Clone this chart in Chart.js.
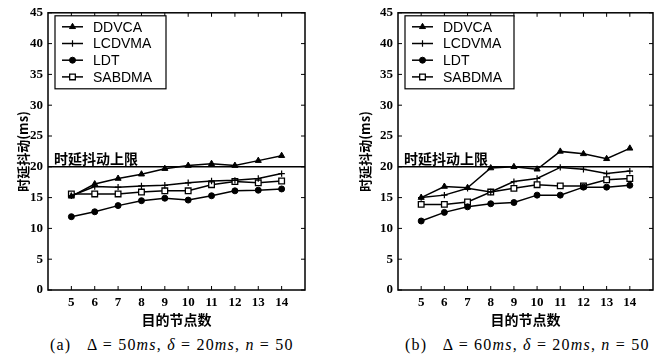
<!DOCTYPE html>
<html>
<head>
<meta charset="utf-8">
<script src="https://cdn.jsdelivr.net/npm/chart.js@4/dist/chart.umd.min.js"></script>
<style>
  body { margin: 0; background: #fff; width: 664px; height: 361px; position: relative; overflow: hidden; }
  canvas { position: absolute; top: 0; }
  .cap { position: absolute; top: 336px; font: 16px "Liberation Serif", serif; letter-spacing: 1.2px; white-space: nowrap; color: #000; }
</style>
</head>
<body>
<canvas id="chartA" width="332" height="330" style="left:0"></canvas>
<canvas id="chartB" width="332" height="330" style="left:332px"></canvas>
<div class="cap" style="left:50px">(a)&nbsp;&nbsp; Δ = 50<i>ms</i>, <i>δ</i> = 20<i>ms</i>, <i>n</i> = 50</div>
<div class="cap" style="left:405px">(b)&nbsp;&nbsp; Δ = 60<i>ms</i>, <i>δ</i> = 20<i>ms</i>, <i>n</i> = 50</div>
<script>
"use strict";

const nodeCounts = [5, 6, 7, 8, 9, 10, 11, 12, 13, 14];
const yTickValues = [0, 5, 10, 15, 20, 25, 30, 35, 40, 45];
const jitterLimit = 20;
const limitLabel = "时延抖动上限";
const seriesNames = ["DDVCA", "LCDVMA", "LDT", "SABDMA"];

// (a) delta = 50ms
const ddvcaA = [15.2, 17.2, 18.1, 18.8, 19.7, 20.2, 20.5, 20.2, 21.0, 21.8];
const lcdvmaA = [15.3, 16.8, 16.7, 16.9, 17.0, 17.4, 17.7, 17.8, 18.1, 18.9];
const ldtA = [11.9, 12.7, 13.7, 14.5, 14.9, 14.6, 15.3, 16.1, 16.2, 16.4];
const sabdmaA = [15.6, 15.6, 15.6, 15.9, 16.1, 16.1, 17.1, 17.6, 17.4, 17.7];

// (b) delta = 60ms
const ddvcaB = [15.0, 16.8, 16.6, 19.8, 20.0, 19.6, 22.5, 22.1, 21.3, 23.0];
const lcdvmaB = [15.0, 15.4, 16.5, 15.9, 17.6, 18.1, 19.9, 19.6, 18.9, 19.3];
const ldtB = [11.2, 12.6, 13.5, 14.0, 14.2, 15.4, 15.4, 16.7, 16.7, 17.0];
const sabdmaB = [13.9, 13.9, 14.3, 15.9, 16.5, 17.1, 16.9, 16.9, 17.9, 18.1];

const markers = [
  { pointStyle: "triangle", pointRadius: 3.5, pointBackgroundColor: "#000", pointBorderWidth: 1 },
  { pointStyle: "cross", pointRadius: 3.2, pointBackgroundColor: "#000", pointBorderWidth: 1.2 },
  { pointStyle: "circle", pointRadius: 3, pointBackgroundColor: "#000", pointBorderWidth: 1 },
  { pointStyle: "rect", pointRadius: 4, pointBackgroundColor: "#fff", pointBorderWidth: 1.3 },
];

const cjk = '"Noto Sans CJK SC", sans-serif';

const framePlugin = {
  id: "frame",
  afterDraw(chart) {
    const { ctx, chartArea: a, scales } = chart;
    ctx.save();
    ctx.strokeStyle = "#000";
    ctx.lineWidth = 1.5;
    ctx.strokeRect(a.left, a.top, a.right - a.left, a.bottom - a.top);
    ctx.lineWidth = 1;
    ctx.beginPath();
    yTickValues.forEach((v) => {
      const y = scales.y.getPixelForValue(v);
      ctx.moveTo(a.left, y); ctx.lineTo(a.left + 4, y);
      ctx.moveTo(a.right, y); ctx.lineTo(a.right - 4, y);
    });
    nodeCounts.forEach((v) => {
      const x = scales.x.getPixelForValue(v);
      ctx.moveTo(x, a.bottom); ctx.lineTo(x, a.bottom - 4);
      ctx.moveTo(x, a.top); ctx.lineTo(x, a.top + 4);
    });
    ctx.stroke();

    // limit label
    ctx.fillStyle = "#000";
    ctx.font = "bold 14px " + cjk;
    ctx.textBaseline = "bottom";
    ctx.textAlign = "left";
    ctx.fillText(limitLabel, a.left + 6, scales.y.getPixelForValue(jitterLimit) - 1);

    // legend box
    const bx = a.left + 7, by = a.top + 3, bw = chart.options.legendWidth, bh = 73;
    ctx.lineWidth = 1.2;
    ctx.fillStyle = "#fff";
    ctx.fillRect(bx, by, bw, bh);
    ctx.strokeRect(bx, by, bw, bh);
    ctx.font = "14px 'Liberation Sans', sans-serif";
    ctx.textBaseline = "middle";
    seriesNames.forEach((name, i) => {
      const y = by + 11 + i * 16.7;
      ctx.strokeStyle = "#000";
      ctx.lineWidth = 1.5;
      ctx.beginPath();
      ctx.moveTo(bx + 7, y); ctx.lineTo(bx + 28, y);
      ctx.stroke();
      const m = markers[i];
      ctx.fillStyle = m.pointBackgroundColor;
      ctx.lineWidth = m.pointBorderWidth;
      Chart.helpers.drawPoint(ctx, { pointStyle: m.pointStyle, radius: m.pointRadius, rotation: 0, borderWidth: m.pointBorderWidth }, bx + 17.5, y);
      ctx.fillStyle = "#000";
      ctx.fillText(name, bx + 38, y + 1);
    });
    ctx.restore();
  },
};

function makeChart(id, values, layout) {
  const datasets = values.map((vals, i) => ({
    label: seriesNames[i],
    data: nodeCounts.map((x, j) => ({ x: x, y: vals[j] })),
    borderColor: "#000",
    borderWidth: 1.5,
    pointBorderColor: "#000",
    tension: 0,
    ...markers[i],
  }));
  datasets.push({
    label: "limit",
    data: [{ x: 4, y: jitterLimit }, { x: 15, y: jitterLimit }],
    borderColor: "#000",
    borderWidth: 1.5,
    pointRadius: 0,
  });

  return new Chart(document.getElementById(id), {
    type: "line",
    data: { datasets: datasets },
    plugins: [framePlugin],
    options: {
      responsive: false,
      animation: false,
      legendWidth: layout.legendWidth,
      layout: { padding: { left: layout.padLeft, right: layout.padRight, top: 10, bottom: 0 } },
      plugins: { legend: { display: false }, tooltip: { enabled: false } },
      scales: {
        x: {
          type: "linear",
          min: 4,
          max: 15,
          afterBuildTicks: (s) => { s.ticks = nodeCounts.map((v) => ({ value: v })); },
          afterFit: (s) => { s.height = 40; },
          grid: { display: false, drawTicks: false },
          border: { display: false },
          ticks: { color: "#000", padding: 5, font: { family: "'Liberation Serif', serif", size: 13, weight: "bold" } },
          title: { display: true, text: "目的节点数", color: "#000", padding: { top: 0, bottom: 2 }, font: { family: cjk, size: 14, weight: "bold" } },
        },
        y: {
          min: 0,
          max: 45,
          afterBuildTicks: (s) => { s.ticks = yTickValues.map((v) => ({ value: v })); },
          afterFit: (s) => { s.width = layout.yWidth; },
          grid: { display: false, drawTicks: false },
          border: { display: false },
          ticks: { color: "#000", padding: 5, font: { family: "'Liberation Serif', serif", size: 13, weight: "bold" } },
          title: { display: true, text: "时延抖动(ms)", color: "#000", padding: 0, font: { family: cjk, size: 13, weight: "bold" } },
        },
      },
    },
  });
}

makeChart("chartA", [ddvcaA, lcdvmaA, ldtA, sabdmaA], { padLeft: 15, padRight: 27, yWidth: 33, legendWidth: 111 });
makeChart("chartB", [ddvcaB, lcdvmaB, ldtB, sabdmaB], { padLeft: 25, padRight: 11, yWidth: 41, legendWidth: 109 });
</script>
</body>
</html>
